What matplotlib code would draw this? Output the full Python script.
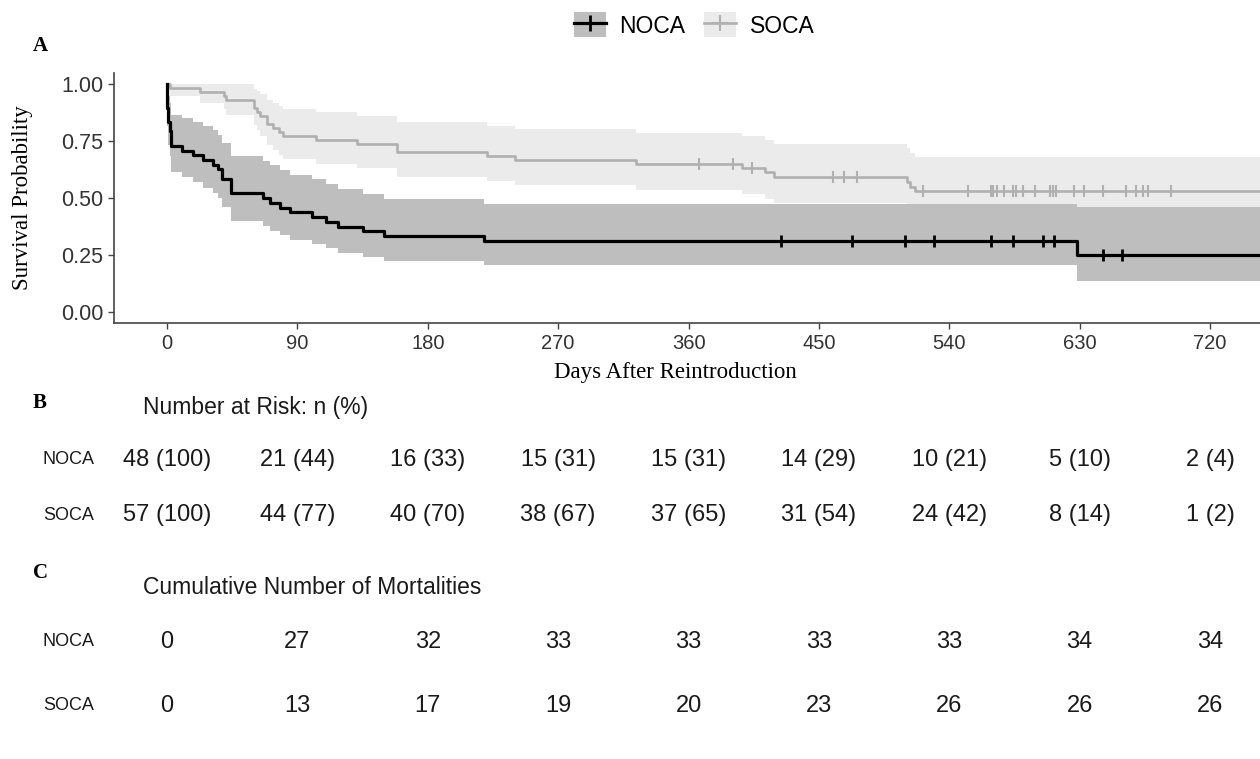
import numpy as np
import matplotlib.pyplot as plt
from matplotlib.lines import Line2D
from matplotlib.patches import Patch
from matplotlib.legend_handler import HandlerTuple
from matplotlib.transforms import blended_transform_factory

plt.rcParams['font.family'] = ['Liberation Sans', 'DejaVu Sans']

# Kaplan-Meier steps (days, survival, 95% band)
noca_time = [0, 0.3, 1, 2, 3, 10, 18, 25, 32, 35, 38, 44, 66, 71, 78, 85,
             100, 110, 118, 135, 150, 219, 628]
noca_surv = [1.0, 0.896, 0.833, 0.792, 0.729, 0.708, 0.688, 0.667, 0.646, 0.625,
             0.583, 0.521, 0.500, 0.479, 0.458, 0.438, 0.417, 0.396, 0.375,
             0.354, 0.333, 0.313, 0.250]
noca_upper = [1.0, 0.987, 0.946, 0.915, 0.866, 0.849, 0.832, 0.814, 0.796, 0.778,
              0.741, 0.683, 0.663, 0.643, 0.623, 0.603, 0.583, 0.562, 0.540,
              0.519, 0.497, 0.475, 0.459]
noca_lower = [1.0, 0.814, 0.734, 0.685, 0.614, 0.590, 0.568, 0.546, 0.524, 0.502,
              0.459, 0.397, 0.377, 0.357, 0.337, 0.317, 0.298, 0.279, 0.260,
              0.242, 0.223, 0.205, 0.136]
noca_censor = [424, 473, 509.5, 529.5, 569, 584, 605, 612, 646, 659]

soca_time = [0, 2, 23, 39, 41, 60, 62, 64, 69, 73, 77, 80, 103, 131, 158.5,
             221, 240, 324, 397, 413, 419, 511, 513, 516]
soca_surv = [1.0, 0.982, 0.965, 0.947, 0.930, 0.895, 0.877, 0.860, 0.825, 0.807,
             0.789, 0.772, 0.754, 0.737, 0.702, 0.684, 0.667, 0.649, 0.631,
             0.612, 0.592, 0.571, 0.550, 0.529]
soca_upper = [1.0, 1.0, 1.0, 1.0, 0.999, 0.978, 0.967, 0.955, 0.929, 0.916,
              0.903, 0.889, 0.875, 0.861, 0.831, 0.816, 0.801, 0.786, 0.770,
              0.753, 0.736, 0.718, 0.699, 0.681]
soca_lower = [1.0, 0.949, 0.918, 0.891, 0.866, 0.818, 0.796, 0.774, 0.731, 0.711,
              0.690, 0.670, 0.651, 0.631, 0.593, 0.574, 0.555, 0.536, 0.517,
              0.497, 0.477, 0.455, 0.433, 0.411]
soca_censor = [367, 391, 404, 460, 467, 476, 522, 553, 569, 570.5, 573, 578, 584,
               586, 591, 599, 609.5, 611.5, 613.5, 626, 633, 646, 662, 669,
               673.5, 677.5, 693]

# tables B and C
table_days = [0, 90, 180, 270, 360, 450, 540, 630, 720]
noca_at_risk = [48, 21, 16, 15, 15, 14, 10, 5, 2]
noca_risk_pct = [100, 44, 33, 31, 31, 29, 21, 10, 4]
soca_at_risk = [57, 44, 40, 38, 37, 31, 24, 8, 1]
soca_risk_pct = [100, 77, 70, 67, 65, 54, 42, 14, 2]
noca_deaths = [0, 27, 32, 33, 33, 33, 33, 34, 34]
soca_deaths = [0, 13, 17, 19, 20, 23, 26, 26, 26]

NOCA_LINE, NOCA_BAND = '#000000', '#bebebe'
SOCA_LINE, SOCA_BAND = '#b0b0b0', '#ebebeb'
X_END = 760


def extend(t, v):
    return np.append(t, X_END), np.append(v, v[-1])


def surv_at(t_steps, s_steps, t):
    idx = np.searchsorted(t_steps, t, side='right') - 1
    return np.asarray(s_steps)[idx]


W, H = 1260, 759
fig = plt.figure(figsize=(W / 100, H / 100), dpi=100)
ax = fig.add_axes([114 / W, 1 - 323 / H, (W - 114) / W, (323 - 73) / H])

# bands: SOCA below, NOCA on top
for t, lo, up, col in [(soca_time, soca_lower, soca_upper, SOCA_BAND),
                       (noca_time, noca_lower, noca_upper, NOCA_BAND)]:
    tx, lox = extend(t, lo)
    _, upx = extend(t, up)
    ax.fill_between(tx, lox, upx, step='post', color=col, lw=0)

tx, sx = extend(soca_time, soca_surv)
ax.step(tx, sx, where='post', color=SOCA_LINE, lw=1.9)
ax.plot(soca_censor, surv_at(soca_time, soca_surv, soca_censor), ls='none',
        marker='|', ms=9, mew=1.5, color=SOCA_LINE)

tx, sx = extend(noca_time, noca_surv)
ax.step(tx, sx, where='post', color=NOCA_LINE, lw=2.3)
ax.plot(noca_censor, surv_at(noca_time, noca_surv, noca_censor), ls='none',
        marker='|', ms=9, mew=2, color=NOCA_LINE)

ax.set_xlim(-36.6, 754.5)
ax.set_ylim(-0.048, 1.048)
ax.set_xticks(table_days)
ax.set_yticks([0, 0.25, 0.5, 0.75, 1.0])
ax.set_yticklabels(['0.00', '0.25', '0.50', '0.75', '1.00'])
ax.tick_params(axis='y', labelsize=15.5, colors='#444444', labelcolor='#333333',
               length=4, width=1)
ax.tick_params(axis='x', labelsize=14.5, colors='#444444', labelcolor='#333333',
               length=4, width=1, pad=4)
for s in ['top', 'right']:
    ax.spines[s].set_visible(False)
for s in ['left', 'bottom']:
    ax.spines[s].set_color('#444444')
    ax.spines[s].set_linewidth(1.2)

ax.set_xlabel('Days After Reintroduction', family='Liberation Serif', fontsize=16.5)
ax.xaxis.set_label_coords((675 - 114) / (W - 114), (323 - 362) / 250)
ax.set_ylabel('Survival Probability', family='Liberation Serif', fontsize=16.5)
ax.yaxis.set_label_coords((33 - 114) / (W - 114), 0.5)

# legend
h_noca = (Patch(fc=NOCA_BAND, ec='none'),
          Line2D([0], [0], color=NOCA_LINE, lw=2.3, marker='+', ms=11, mew=2))
h_soca = (Patch(fc=SOCA_BAND, ec='none'),
          Line2D([0], [0], color=SOCA_LINE, lw=1.9, marker='+', ms=11, mew=1.5))
fig.legend([h_noca, h_soca], ['NOCA', 'SOCA'],
           handler_map={tuple: HandlerTuple(ndivide=1, pad=0)},
           loc='center', bbox_to_anchor=(694 / W, 1 - 25 / H), ncol=2,
           frameon=False, fontsize=16.5, handlelength=1.4, handleheight=1.3,
           columnspacing=0.8, handletextpad=0.6)

# panel letters and table headings
for letter, py in [('A', 46), ('B', 403), ('C', 573)]:
    fig.text(33 / W, 1 - py / H, letter, family='Liberation Serif',
             fontweight='bold', fontsize=15, va='center', ha='left')
fig.text(143 / W, 1 - 407 / H, 'Number at Risk: n (%)', fontsize=16.5,
         va='center', ha='left', color='#1a1a1a')
fig.text(143 / W, 1 - 587 / H, 'Cumulative Number of Mortalities', fontsize=16.5,
         va='center', ha='left', color='#1a1a1a')

trans = blended_transform_factory(ax.transData, fig.transFigure)
rows = [
    ('NOCA', 460, [f'{n} ({p})' for n, p in zip(noca_at_risk, noca_risk_pct)]),
    ('SOCA', 515, [f'{n} ({p})' for n, p in zip(soca_at_risk, soca_risk_pct)]),
    ('NOCA', 642, [str(v) for v in noca_deaths]),
    ('SOCA', 706, [str(v) for v in soca_deaths]),
]
for name, py, labels in rows:
    fig.text(43 / W, 1 - py / H, name, fontsize=13, va='center', ha='left',
             color='#1a1a1a')
    for d, lab in zip(table_days, labels):
        ax.text(d, 1 - py / H, lab, transform=trans, fontsize=17, ha='center',
                va='center', color='#1a1a1a', clip_on=False)

fig.savefig('out.png', dpi=100)
